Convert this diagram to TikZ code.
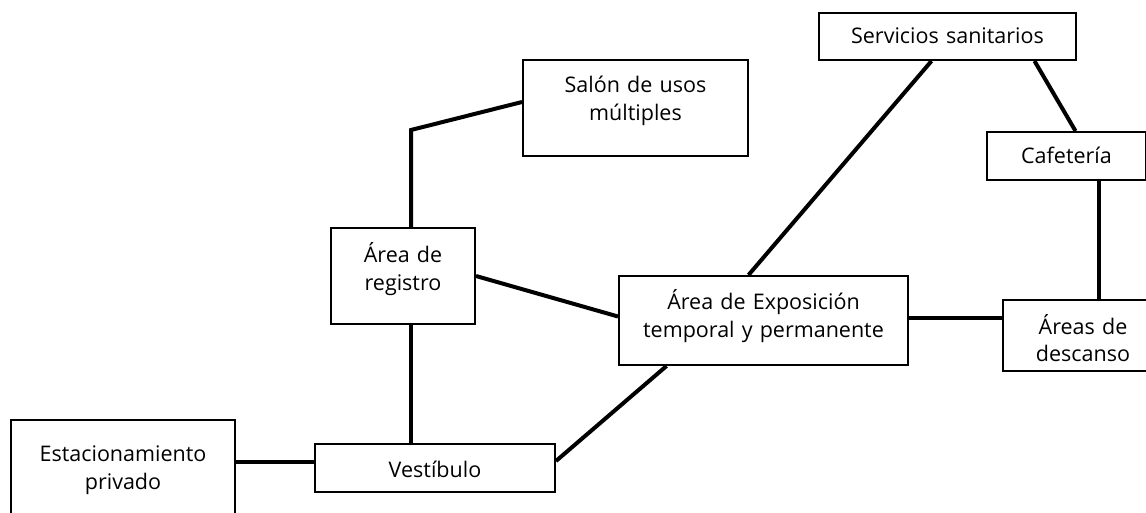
\documentclass[tikz,border=0pt]{standalone}
\usepackage{fontspec}
\setmainfont{Open Sans}
\usepackage{tikz}
\usetikzlibrary{positioning}

\tikzset{
  room/.style={draw, line width=2pt, inner sep=0pt, align=center, anchor=north west,
    font=\fontsize{21.5}{28}\selectfont},
  link/.style={line width=4pt}
}

\begin{document}
\begin{tikzpicture}[x=1pt,y=1pt]
\useasboundingbox (0,0) rectangle (1146,-513);
\node[room, text width=224pt, text height=41pt, text depth=100pt] (est) at (10,-419) {Estacionamiento\\privado};
\node[room, text width=240pt, text height=33pt, text depth=15pt] (vest) at (314,-443) {Vestíbulo};
\node[room, text width=144pt, text height=34pt, text depth=62pt] (reg) at (330,-227) {Área de\\registro};
\node[room, text width=225pt, text height=33pt, text depth=63pt] (sal) at (522,-59) {Salón de usos\\múltiples};
\node[room, text width=289pt, text height=33pt, text depth=56pt] (expo) at (618,-275) {Área de Exposición\\temporal y permanente};
\node[room, text width=257pt, text height=31pt, text depth=16pt] (serv) at (818,-12) {Servicios sanitarios};
\node[room, text width=159pt, text height=32pt, text depth=16pt] (caf) at (986,-131) {Cafetería};
\node[room, text width=160pt, text height=34pt, text depth=37pt] (desc) at (1002,-299) {Áreas de\\descanso};
\draw[link] ([yshift=6pt]vest.west) -- ([yshift=6pt]vest.west -| est.east);
\draw[link] ([xshift=8pt]reg.south) -- ([xshift=8pt]reg.south |- vest.north);
\draw[link] ([xshift=8pt]reg.north) -- ++(0,97) -- ([yshift=6pt]sal.west);
\draw[link] (reg.east) -- ([yshift=4pt]expo.west);
\draw[link] ([xshift=-97pt]expo.south) -- ([yshift=7pt]vest.east);
\draw[link] ([xshift=-15pt]expo.north) -- ([xshift=-16pt]serv.south);
\draw[link] ([xshift=87pt]serv.south) -- ([xshift=9pt]caf.north);
\draw[link] ([xshift=32pt]caf.south) -- ([xshift=32pt]caf.south |- desc.north);
\draw[link] ([yshift=3pt]expo.east) -- ([yshift=3pt]expo.east -| desc.west);
\end{tikzpicture}
\end{document}
